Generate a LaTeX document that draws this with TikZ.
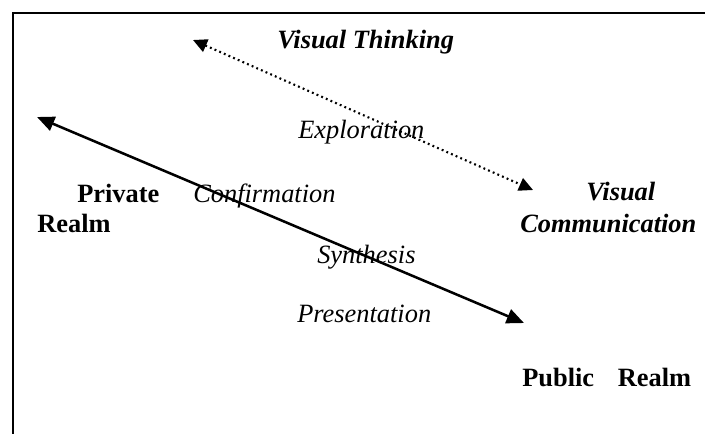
\documentclass[tikz,border=0pt]{standalone}
\usepackage{fontspec}
\setmainfont{Liberation Serif}
\usetikzlibrary{arrows.meta}
\begin{document}
\begin{tikzpicture}[x=0.75pt,y=-0.75pt,
  lbl/.style={anchor=base west,inner sep=0pt,font=\fontsize{19.8}{23}\selectfont\itshape},
  realm/.style={anchor=base west,inner sep=0pt,font=\fontsize{19.8}{23}\selectfont\bfseries},
  mode/.style={anchor=base west,inner sep=0pt,font=\fontsize{19.8}{23}\selectfont\bfseries\itshape},
  bigtip/.tip={Triangle[length=13pt,width=11pt]},
  solidarrow/.style={line width=1.9pt,{bigtip}-{bigtip},shorten <=0pt,shorten >=0pt},
  dotarrow/.style={line width=1.6pt,dash pattern=on 1.4pt off 2.4pt,
    {Triangle[length=10.5pt,width=10pt]}-{Triangle[length=10.5pt,width=10pt]}}]
\useasboundingbox (0,0) rectangle (705,433);
% open frame: top and left edges
\draw[line width=1.6pt] (13,440) -- (13,13) -- (712,13);

% end points of the two axes
\coordinate (privEnd) at (37,117);
\coordinate (pubEnd) at (524,323);
\coordinate (thinkEnd) at (193,40);
\coordinate (commEnd) at (533,190);

\draw[solidarrow] (privEnd) -- (pubEnd);
\draw[dotarrow] (thinkEnd) -- (commEnd);

% labels
\node[mode] (vthink) at (277,48) {Visual Thinking};
\node[mode] (vis) at (586,200) {Visual};
\node[mode] (comm) at (520,232) {Communication};
\node[realm] (priv) at (77,202) {Private};
\node[realm] (privR) at (37,232) {Realm};
\node[realm] (pub) at (522,386) {Public\hspace{0.9em}Realm};
\node[lbl] (expl) at (298,138) {Exploration};
\node[lbl] (conf) at (193,202) {Confirmation};
\node[lbl] (synth) at (317,263) {Synthesis};
\node[lbl] (pres) at (297,322) {Presentation};
\end{tikzpicture}
\end{document}
